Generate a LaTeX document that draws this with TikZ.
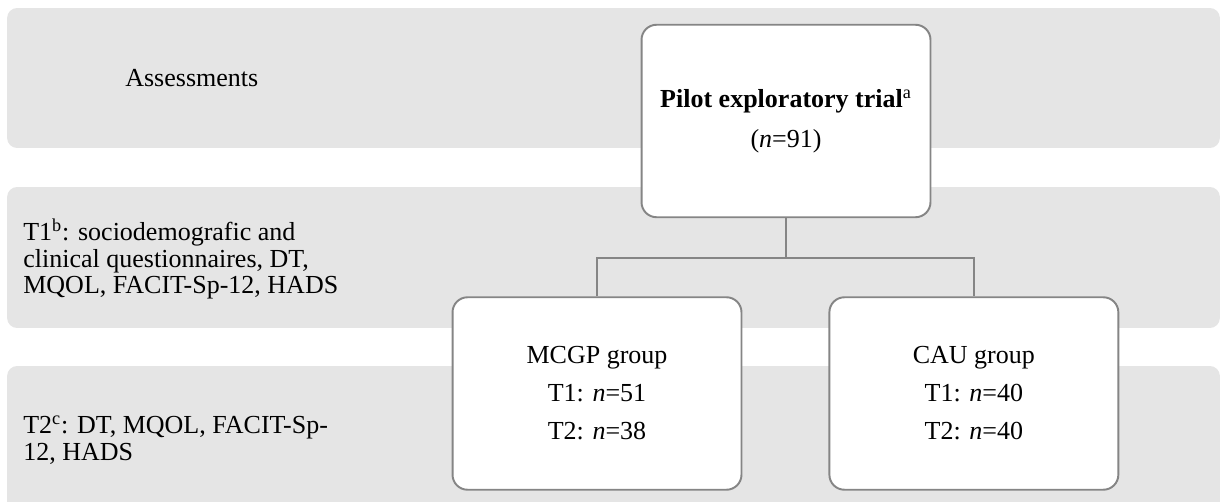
\documentclass[tikz,border=0pt]{standalone}
\usepackage{fontspec}
\setmainfont{Liberation Serif}
\usetikzlibrary{positioning}
\colorlet{bandgray}{black!10}
\colorlet{linegray}{black!48}
\tikzset{
  band/.style={rectangle, fill=bandgray, draw=none, rounded corners=0.2cm, minimum width=24.26cm},
  groupbox/.style={rectangle, draw=linegray, line width=1.1pt, fill=white, rounded corners=0.3cm, minimum width=5.78cm, minimum height=3.85cm, align=center},
  connector/.style={draw=linegray, line width=1.3pt},
  labeltext/.style={inner sep=0, align=left, anchor=west, font=\fontsize{14.8pt}{15.2pt}\selectfont}
}

\begin{document}
\begin{tikzpicture}[
    x=0.02cm, y=-0.02cm,
    node distance=1.72cm
]
\useasboundingbox (0,0) rectangle (1222,502);

% Background rows
\node[band, minimum height=2.8cm] (row1) at (613.5,78) {};
\node[band, minimum height=2.82cm] (row2) at (613.5,257.5) {};
\node[band, minimum height=3.0cm] (row3) at (613.5,441) {};

% Row labels
\node[labeltext, anchor=base west] (assess) at (125,87) {Assessments};
\node[labeltext] (tone) at (23,259) {T1\textsuperscript{b}: sociodemografic and\\clinical questionnaires, DT,\\MQOL, FACIT-Sp-12, HADS};
\node[labeltext] (ttwo) at (23,440) {T2\textsuperscript{c}: DT, MQOL, FACIT-Sp-\\12, HADS};

% Trial and groups
\node[groupbox, font=\fontsize{14.8pt}{22.8pt}\selectfont] (pilot) at (786,121) {\textbf{Pilot exploratory trial}\textsuperscript{a}\\(\textit{n}=91)};
\node[groupbox, font=\fontsize{14.8pt}{21.6pt}\selectfont] (mcgp) at (597,393.5) {MCGP group\\T1: \textit{n}=51\\T2: \textit{n}=38};
\node[groupbox, font=\fontsize{14.8pt}{21.6pt}\selectfont, right=of mcgp] (cau) {CAU group\\T1: \textit{n}=40\\T2: \textit{n}=40};

% Split lines
\coordinate (split) at (786,258);
\draw[connector] (pilot.south) -- (split);
\draw[connector] (mcgp.north) |- (split) -| (cau.north);

\end{tikzpicture}
\end{document}
